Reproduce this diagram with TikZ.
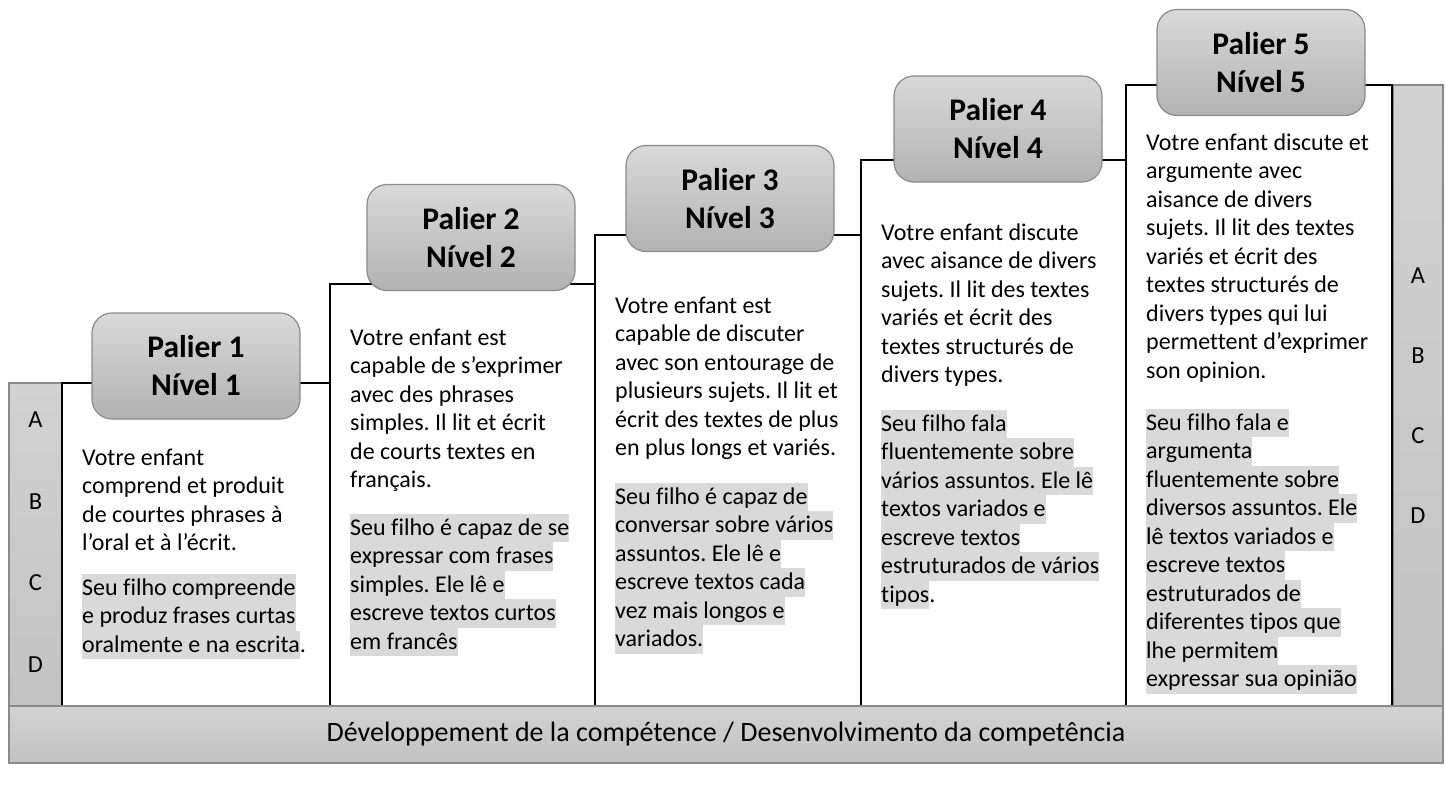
\documentclass[tikz,border=0pt]{standalone}
\usepackage{fontspec}
\setmainfont{Carlito}[Ligatures=CommonOff]
\setlength{\fboxsep}{0pt}
\frenchspacing
\definecolor{hl}{HTML}{D9D9D9}
\definecolor{bartop}{HTML}{D2D2D2}
\definecolor{barbot}{HTML}{C2C2C2}
\definecolor{boxtop}{HTML}{D9D9D9}
\definecolor{boxbot}{HTML}{B2B2B2}
\definecolor{edge}{HTML}{8A8A8A}
\newcommand{\lnstrut}{\rule[-7pt]{0pt}{28.5pt}}
\newcommand{\hlt}[1]{\colorbox{hl}{\lnstrut#1}}
\newcommand{\fl}[1]{\lnstrut#1}
\begin{document}
\begin{tikzpicture}[x=1pt,y=-1pt,
  bar/.style={draw=edge, line width=1.2pt, shading=axis, top color=bartop, bottom color=barbot},
  lvl/.style={draw=edge, line width=1.2pt, rounded corners=20pt, shading=axis, top color=boxtop, bottom color=boxbot, minimum width=208pt, minimum height=106pt, inner sep=0pt, align=center, font=\fontsize{31.5}{38}\selectfont\bfseries},
  body/.style={anchor=north west, inner sep=0pt, align=left, font=\fontsize{24}{28.5}\selectfont},
  letter/.style={inner sep=0pt, font=\fontsize{24.5}{28}\selectfont},
  stepline/.style={line width=2pt, black}]
\useasboundingbox (0,0) rectangle (1445,785);
% side bars
\path[bar] (9,383) rectangle (62,706);
\path[bar] (1393,85) rectangle (1443,706);
% step outline
\coordinate (b0) at (62,706);
\coordinate (b1) at (330,706);
\coordinate (b2) at (595,706);
\coordinate (b3) at (861,706);
\coordinate (b4) at (1126,706);
\coordinate (b5) at (1392,706);
\draw[stepline] (b0) |- (330,383);
\draw[stepline] (b1) |- (595,284);
\draw[stepline] (b2) |- (861,235);
\draw[stepline] (b3) |- (1126,160);
\draw[stepline] (b4) |- (1392,85) -- (b5);
% level boxes
\node[lvl] (p1) at (196,366) {Palier 1\\Nível 1};
\node[lvl] (p2) at (471,237.5) {Palier 2\\Nível 2};
\node[lvl] (p3) at (730,198.5) {Palier 3\\Nível 3};
\node[lvl] (p4) at (998,129) {Palier 4\\Nível 4};
\node[lvl] (p5) at (1261,62.5) {Palier 5\\Nível 5};
% letters
\node[letter] (la) at (35.5,420) {A};
\node[letter] (lb) at (35.5,502) {B};
\node[letter] (lc) at (35.5,583) {C};
\node[letter] (ld) at (35.5,665) {D};
\node[letter] (ra) at (1418,276) {A};
\node[letter] (rb) at (1418,356) {B};
\node[letter] (rc) at (1418,436) {C};
\node[letter] (rd) at (1418,516) {D};
% column 1
\node[body] (fr1) at (82,443.5) {\fl{Votre enfant}\\\fl{comprend et produit}\\\fl{de courtes phrases à}\\\fl{l’oral et à l’écrit.}};
\node[body] (pt1) at (82,573.5) {\hlt{Seu filho compreende}\\\hlt{e produz frases curtas}\\\hlt{oralmente e na escrita}.};
% column 2
\node[body] (fr2) at (350,323.5) {\fl{Votre enfant est}\\\fl{capable de s’exprimer}\\\fl{avec des phrases}\\\fl{simples. Il lit et écrit}\\\fl{de courts textes en}\\\fl{français.}};
\node[body] (pt2) at (350,513.5) {\hlt{Seu filho é capaz de se}\\\hlt{expressar com frases}\\\hlt{simples. Ele lê e}\\\hlt{escreve textos curtos}\\\hlt{em francês}};
% column 3
\node[body] (fr3) at (615,291.5) {\fl{Votre enfant est}\\\fl{capable de discuter}\\\fl{avec son entourage de}\\\fl{plusieurs sujets. Il lit et}\\\fl{écrit des textes de plus}\\\fl{en plus longs et variés.}};
\node[body] (pt3) at (615,482.5) {\hlt{Seu filho é capaz de}\\\hlt{conversar sobre vários}\\\hlt{assuntos. Ele lê e}\\\hlt{escreve textos cada}\\\hlt{vez mais longos e}\\\hlt{variados.}};
% column 4
\node[body] (fr4) at (881,218.5) {\fl{Votre enfant discute}\\\fl{avec aisance de divers}\\\fl{sujets. Il lit des textes}\\\fl{variés et écrit des}\\\fl{textes structurés de}\\\fl{divers types.}};
\node[body] (pt4) at (881,409.5) {\hlt{Seu filho fala}\\\hlt{fluentemente sobre}\\\hlt{vários assuntos. Ele lê}\\\hlt{textos variados e}\\\hlt{escreve textos}\\\hlt{estruturados de vários}\\\hlt{tipos}.};
% column 5
\node[body] (fr5) at (1146,128.5) {\fl{Votre enfant discute et}\\\fl{argumente avec}\\\fl{aisance de divers}\\\fl{sujets. Il lit des textes}\\\fl{variés et écrit des}\\\fl{textes structurés de}\\\fl{divers types qui lui}\\\fl{permettent d’exprimer}\\\fl{son opinion.}};
\node[body] (pt5) at (1146,408.5) {\hlt{Seu filho fala e}\\\hlt{argumenta}\\\hlt{fluentemente sobre}\\\hlt{diversos assuntos. Ele}\\\hlt{lê textos variados e}\\\hlt{escreve textos}\\\hlt{estruturados de}\\\hlt{diferentes tipos que}\\\hlt{lhe permitem}\\\hlt{expressar sua opinião}};
% bottom bar
\node[bar, minimum width=1434pt, minimum height=57pt, inner sep=0pt, font=\fontsize{28}{32}\selectfont] (dev) at (726,734.5) {Développement de la compétence / Desenvolvimento da competência};
\end{tikzpicture}
\end{document}
